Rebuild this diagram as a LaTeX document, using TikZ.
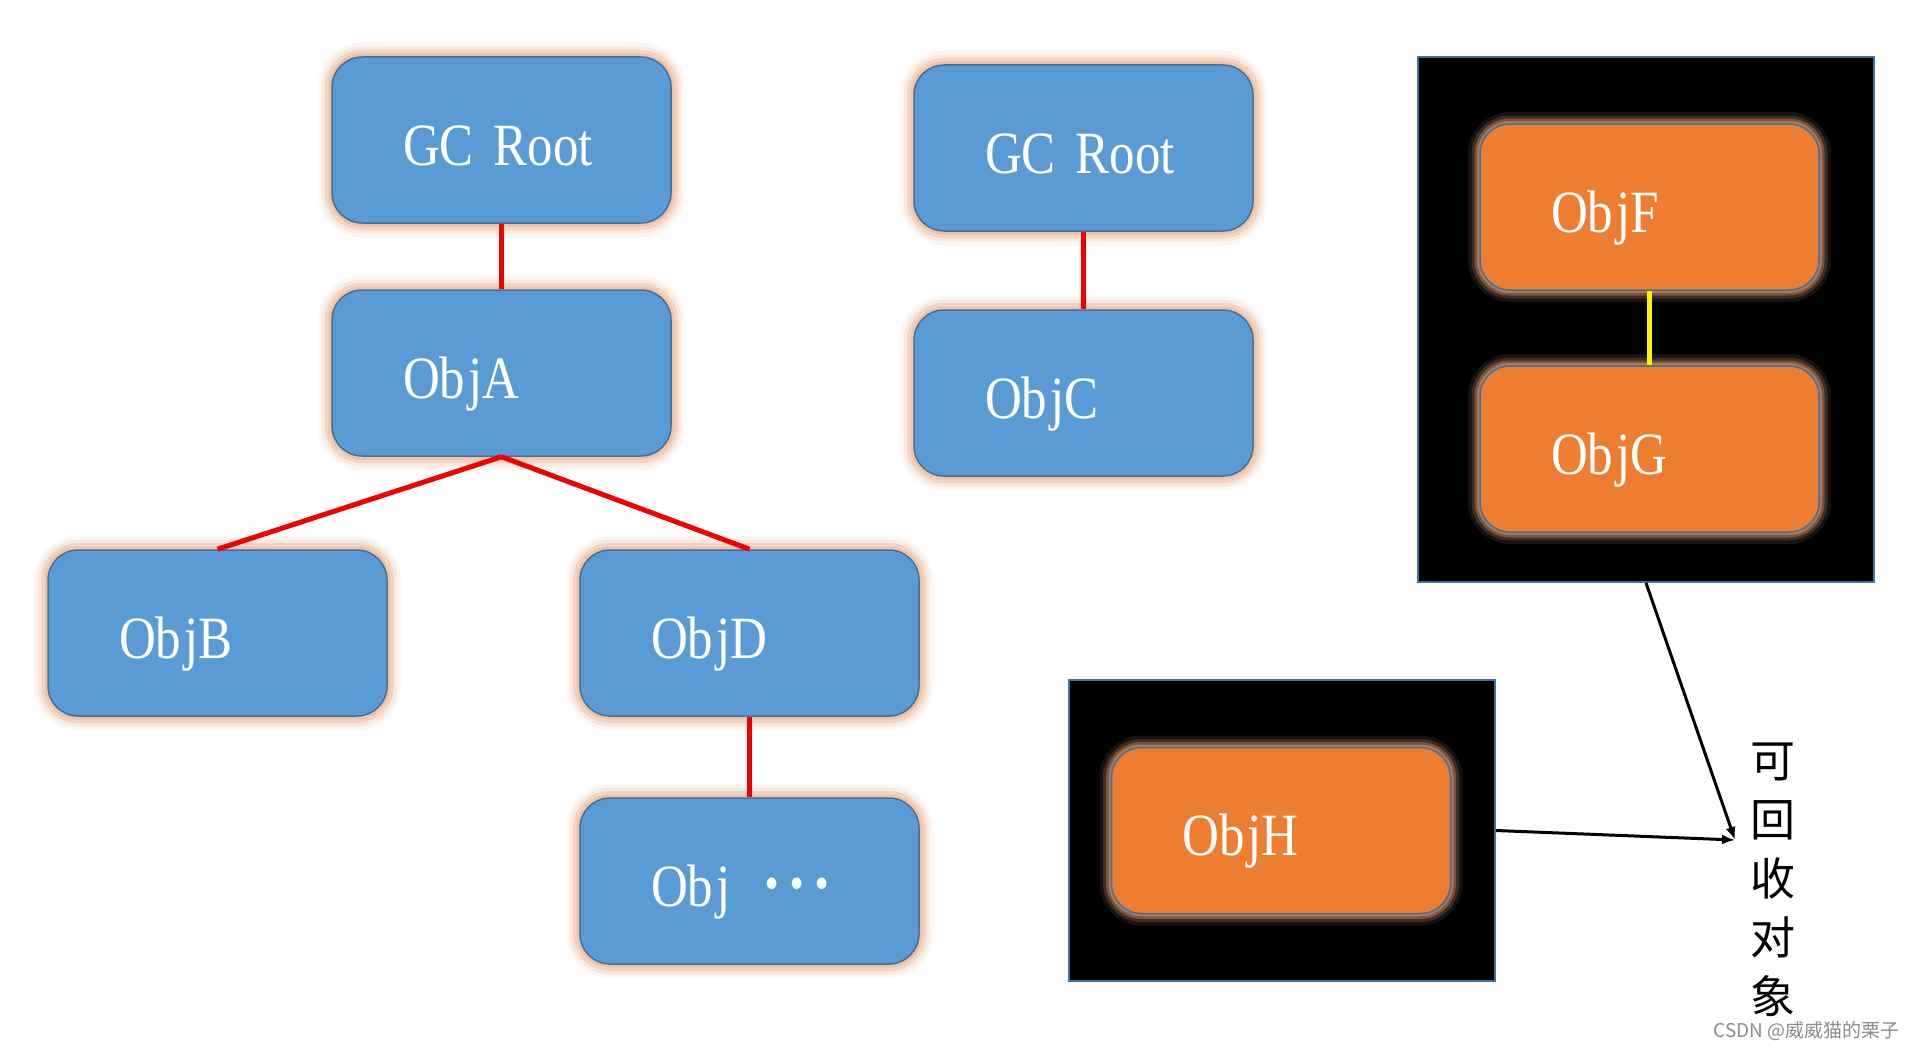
\documentclass[tikz,border=0pt]{standalone}
\usepackage{fontspec}
\usetikzlibrary{arrows.meta}
\newfontfamily\objfont[FakeStretch=0.85]{Liberation Serif}
\newfontfamily\cjkfont{Noto Sans CJK SC}
\definecolor{boxblue}{HTML}{5B9BD5}
\definecolor{bordc}{HTML}{41719C}
\definecolor{boxorange}{HTML}{ED7D31}
\definecolor{glowpeach}{HTML}{EDB896}
\definecolor{gloworange}{HTML}{C89270}
\definecolor{linered}{HTML}{F00000}
\tikzset{
  objbox/.style={rounded corners=30pt, minimum width=339pt, minimum height=166pt,
    draw=bordc, line width=1.5pt, inner sep=0pt, text=white,
    font=\objfont\fontsize{60pt}{72pt}\selectfont,
    execute at begin node={\hbox to 197pt\bgroup},
    execute at end node={\hfil\egroup},
    text height=62pt, text depth=12pt},
  bluebox/.style={objbox, fill=boxblue,
    preaction={draw=glowpeach, line width=28pt, draw opacity=0.12},
    preaction={draw=glowpeach, line width=21pt, draw opacity=0.22},
    preaction={draw=glowpeach, line width=14pt, draw opacity=0.40},
    preaction={draw=glowpeach, line width=7pt, draw opacity=0.6}},
  orangebox/.style={objbox, fill=boxorange,
    preaction={draw=gloworange, line width=24pt, draw opacity=0.12},
    preaction={draw=gloworange, line width=17pt, draw opacity=0.22},
    preaction={draw=gloworange, line width=11pt, draw opacity=0.40},
    preaction={draw=gloworange, line width=6pt, draw opacity=0.6}},
  blackbox/.style={draw=bordc, line width=1.8pt, fill=black, inner sep=0pt},
  redline/.style={draw=linered, line width=5pt},
  yellowline/.style={draw=yellow, line width=5pt},
  arr/.style={draw=black, line width=3pt, -{Latex[length=13pt,width=10pt]}},
}
\newcommand{\bigdots}{\raisebox{-9pt}{\scalebox{1.6}{·}\hspace{-2pt}\scalebox{1.6}{·}\hspace{-2pt}\scalebox{1.6}{·}}}
\begin{document}
\begin{tikzpicture}[x=1pt,y=-1pt]
\path[use as bounding box, fill=white] (0,0) rectangle (1913,1049);

% black containers
\node[blackbox, minimum width=456pt, minimum height=525pt] (k1) at (1646,319.5) {};
\node[blackbox, minimum width=426pt, minimum height=301pt] (k2) at (1282,830.5) {};

% blue nodes
\node[bluebox] (gc1) at (501.5,140) {GC\hspace{20pt}Root};
\node[bluebox] (objA) at (501.5,373) {Ob\hspace{3pt}jA};
\node[bluebox] (gc2) at (1083.5,148) {GC\hspace{20pt}Root};
\node[bluebox] (objC) at (1083.5,393) {Ob\hspace{3pt}jC};
\node[bluebox] (objB) at (217.5,633) {Ob\hspace{3pt}jB};
\node[bluebox] (objD) at (749.5,633) {Ob\hspace{3pt}jD};
\node[bluebox] (objX) at (749.5,881) {Ob\hspace{3pt}j\hspace{28pt}\bigdots};

% orange nodes
\node[orangebox] (objF) at (1649.5,207) {Ob\hspace{3pt}jF};
\node[orangebox] (objG) at (1649.5,449) {Ob\hspace{3pt}jG};
\node[orangebox] (objH) at (1281,830.5) {Ob\hspace{3pt}jH};

% references
\draw[redline] (gc1.south) -- (objA.north);
\draw[redline] (objA.south) -- (objB.north);
\draw[redline] (objA.south) -- (objD.north);
\draw[redline] (objD.south) -- (objX.north);
\draw[redline] (gc2.south) -- (objC.north);
\draw[yellowline] (objF.south) -- (objG.north);

% label and arrows
\node[font=\cjkfont\fontsize{45pt}{59pt}\selectfont, align=center, inner sep=0pt] (lbl) at (1773,880) {可\\回\\收\\对\\象};
\coordinate (tip) at (1735,840);
\draw[arr] (k1.south) -- (tip);
\draw[arr] (k2.east) -- (tip);

% watermark
\node[font=\cjkfont\fontsize{19pt}{22pt}\selectfont, text=black!45, anchor=east, inner sep=0pt] (wm) at (1900,1031) {CSDN @威威猫的栗子};
\end{tikzpicture}
\end{document}
